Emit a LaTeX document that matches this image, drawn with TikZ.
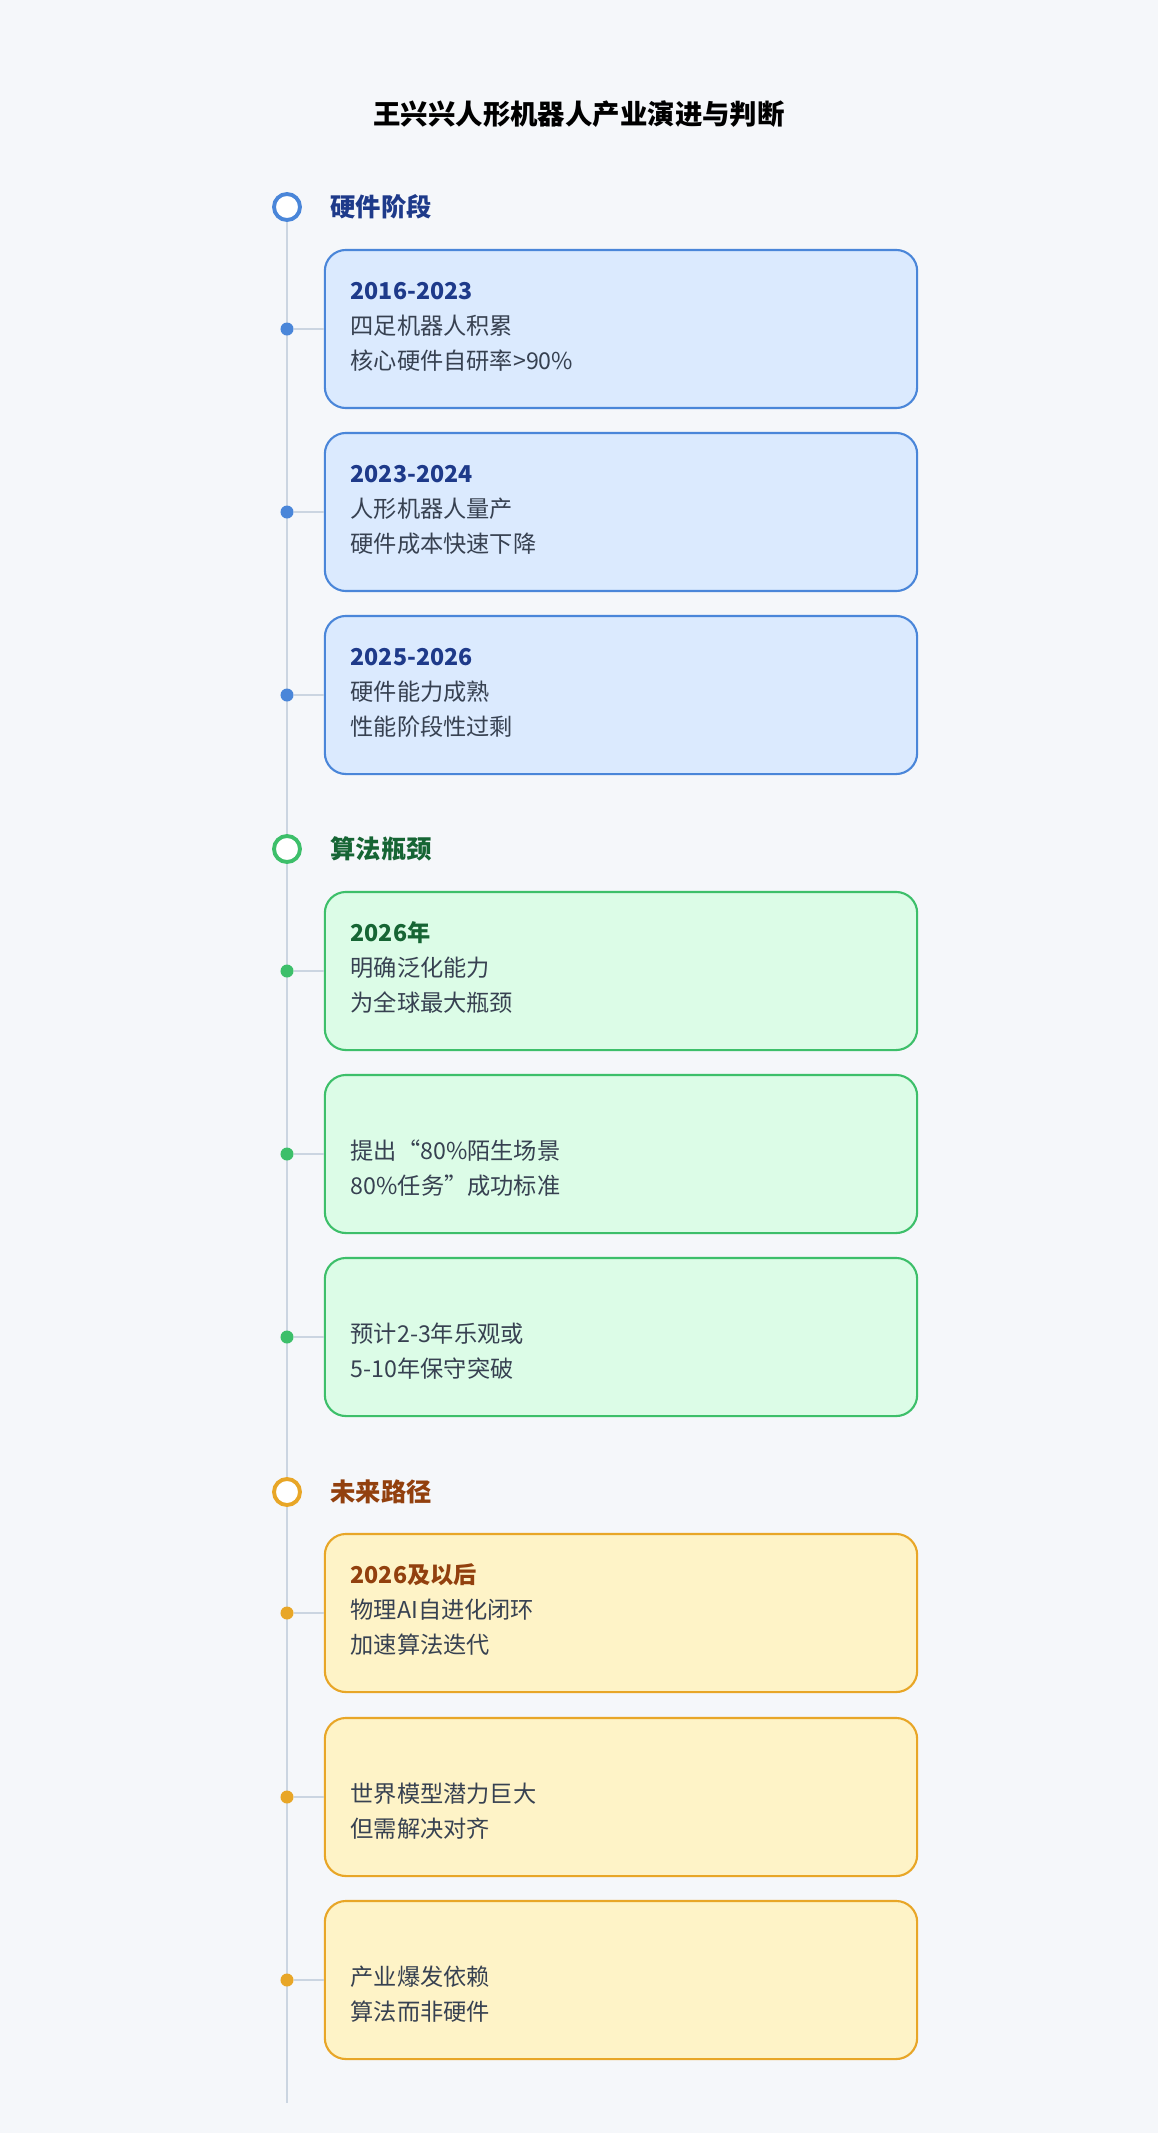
\documentclass[tikz,border=0pt]{standalone}
\usepackage{fontspec}
\setmainfont{Noto Sans CJK SC}
\usetikzlibrary{positioning,calc}
\definecolor{bgc}{HTML}{F5F7FA}
\definecolor{railc}{HTML}{CBD5E1}
\definecolor{bluef}{HTML}{DBEAFE}
\definecolor{blued}{HTML}{4A86D9}
\definecolor{bluet}{HTML}{1E3A8A}
\definecolor{greenf}{HTML}{DCFCE7}
\definecolor{greend}{HTML}{3DBF6A}
\definecolor{greent}{HTML}{166534}
\definecolor{yellf}{HTML}{FEF3C7}
\definecolor{yelld}{HTML}{E8A627}
\definecolor{yellt}{HTML}{92400E}
\definecolor{bodyt}{HTML}{374151}
\tikzset{
  box/.style={draw, line width=0.6pt, rounded corners=6pt, minimum width=5.92cm, minimum height=1.58cm},
  dot/.style={circle, inner sep=0pt, minimum size=0.13cm},
  ring/.style={circle, draw, line width=1.1pt, fill=white, minimum size=0.26cm, inner sep=0pt},
  sec/.style={anchor=west, font=\bfseries\fontsize{7.2pt}{8pt}\selectfont},
  txt/.style={anchor=west, text=bodyt, font=\fontsize{6.6pt}{8pt}\selectfont, inner sep=0pt},
  yr/.style={anchor=west, font=\bfseries\fontsize{6.6pt}{8pt}\selectfont, inner sep=0pt}
}
\begin{document}
\begin{tikzpicture}[x=0.01cm,y=-0.01cm]
\fill[bgc] (0,0) rectangle (1158,2133);
\useasboundingbox (0,0) rectangle (1158,2133);
\node[font=\bfseries\fontsize{7.8pt}{9pt}\selectfont, text=black] (title) at (579,114) {王兴兴人形机器人产业演进与判断};
\draw[railc, line width=0.85pt] (287,207) -- (287,2103);

% sections
\node[ring, draw=blued] (s1) at (287,207) {};
\node[sec, text=bluet] at (318,207) {硬件阶段};
\node[ring, draw=greend] (s2) at (287,849) {};
\node[sec, text=greent] at (318,849) {算法瓶颈};
\node[ring, draw=yelld] (s3) at (287,1492) {};
\node[sec, text=yellt] at (318,1492) {未来路径};

% cards
\foreach \n/\y/\f/\d/\t/\yr/\la/\lb in {
  1/329/bluef/blued/bluet/2016-2023/四足机器人积累/核心硬件自研率>90\%,
  2/512/bluef/blued/bluet/2023-2024/人形机器人量产/硬件成本快速下降,
  3/695/bluef/blued/bluet/2025-2026/硬件能力成熟/性能阶段性过剩,
  4/971/greenf/greend/greent/2026年/明确泛化能力/为全球最大瓶颈,
  5/1154/greenf/greend/greent//提出“80\%陌生场景/80\%任务”成功标准,
  6/1337/greenf/greend/greent//预计2-3年乐观或/5-10年保守突破,
  7/1613/yellf/yelld/yellt/2026及以后/物理AI自进化闭环/加速算法迭代,
  8/1797/yellf/yelld/yellt//世界模型潜力巨大/但需解决对齐,
  9/1980/yellf/yelld/yellt//产业爆发依赖/算法而非硬件}{
  \node[box, fill=\f, draw=\d] (b\n) at (621,\y) {};
  \node[dot, fill=\d] (d\n) at (287,\y) {};
  \draw[railc, line width=0.4pt] (d\n) -- (b\n.west);
  \node[yr, text=\t] at (350,\y-38) {\yr};
  \node[txt] at (350,\y-3) {\la};
  \node[txt] at (350,\y+32) {\lb};
}
\end{tikzpicture}
\end{document}
